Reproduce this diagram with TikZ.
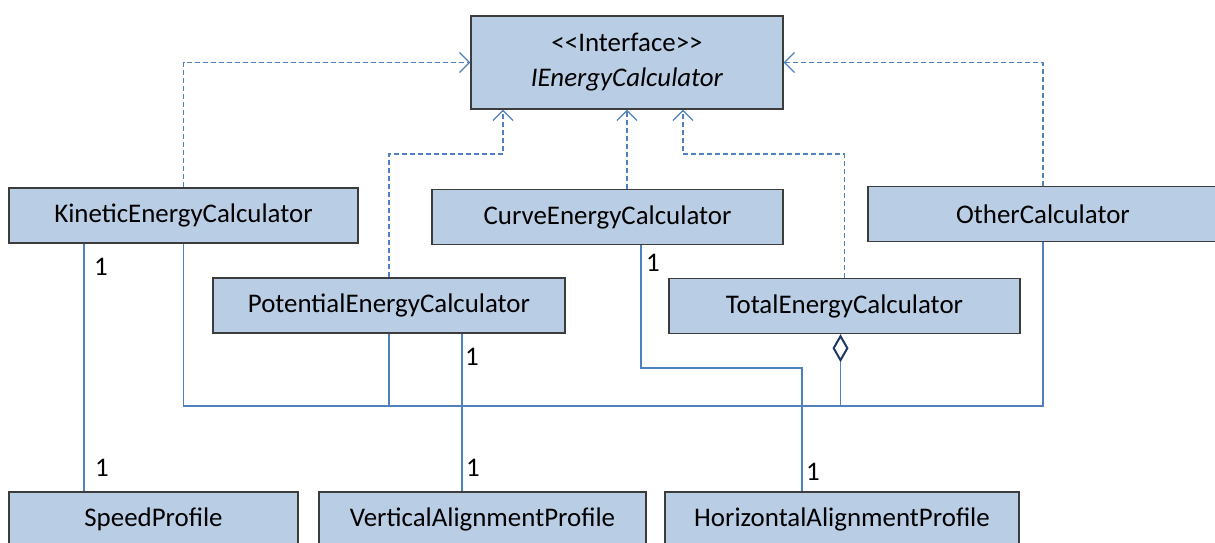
\documentclass[tikz,border=0pt]{standalone}
\usepackage{fontspec}
\setmainfont{Carlito}
\usetikzlibrary{arrows.meta, positioning, calc}
\definecolor{umlfill}{RGB}{185,205,229}
\definecolor{umledge}{RGB}{60,60,60}
\definecolor{umlline}{RGB}{79,129,189}
\definecolor{umlnavy}{RGB}{31,56,100}
\tikzset{
  classbox/.style={draw=umledge, fill=umlfill, line width=1.4bp, minimum height=55bp,
    inner sep=0pt, font=\fontsize{27}{32}\selectfont},
  realize/.style={umlline, line width=1.2bp, dash pattern=on 5bp off 3bp,
    -{Straight Barb[length=10bp,width=20bp]}},
  assoc/.style={umlline, line width=1.2bp},
  mult/.style={inner sep=0pt, font=\fontsize{27}{32}\selectfont},
}

\begin{document}
\begin{tikzpicture}[x=1bp, y=-1bp]
		\useasboundingbox (0,0) rectangle (1215,543);
		% interface
		\node[classbox, minimum width=312bp, minimum height=93bp, align=center,
		  font=\fontsize{27}{35}\selectfont] (iface) at (627,62.5)
		  {<\kern0pt<Interface>\kern0pt>\\ \textit{IEnergyCalculator}};
		% classes
		\foreach \nm/\x/\y/\w/\txt in {
		  kin/183.5/215.5/349/KineticEnergyCalculator,
		  curve/607.5/217/351/CurveEnergyCalculator,
		  oth/1043/214/350/OtherCalculator,
		  pot/389/305.5/352/PotentialEnergyCalculator,
		  tot/844.5/306/351/TotalEnergyCalculator,
		  speed/153.5/519.5/289/SpeedProfile,
		  vert/482.5/519.5/327/VerticalAlignmentProfile,
		  horiz/842/519.5/354/HorizontalAlignmentProfile}
		  \node[classbox, minimum width=\w bp] (\nm) at (\x,\y) {\txt};
		% realizations
		\coordinate (potbend) at (503,154);
		\coordinate (totbend) at (683,154);
		\draw[realize] (kin.north) |- (iface.west);
		\draw[realize] (oth.north) |- (iface.east);
		\draw[realize] (iface.south |- curve.north) -- (iface.south);
		\draw[realize] (pot.north) |- (potbend) -- (potbend |- iface.south);
		\draw[realize] (tot.north) |- (totbend) -- (totbend |- iface.south);
		% aggregation
		\coordinate (bus) at (0,406);
		\draw[assoc] (kin.south) |- (bus -| oth.south) -- (oth.south);
		\draw[assoc] (pot.south) -- (pot.south |- bus);
		\draw[assoc, {Diamond[open, length=28bp, width=16bp, line width=2bp, color=umlnavy]}-]
		  ([xshift=-4bp]tot.south) -- ([xshift=-4bp]tot.south |- bus);
		% associations
		\coordinate (cbend) at (802,368);
		\draw[assoc] ([xshift=-99.5bp]kin.south) coordinate (k1) -- (k1 |- speed.north);
		\draw[assoc] ([xshift=73bp]pot.south) coordinate (p1) -- (p1 |- vert.north);
		\draw[assoc] ([xshift=33.5bp]curve.south) |- (cbend) -- (cbend |- horiz.north);
		% multiplicities
		\foreach \nm/\x/\y in {m1/101/267, m2/102/468, m3/472/357,
		  m4/473/468, m5/653/263, m6/813/472}
		  \node[mult] (\nm) at (\x,\y) {1};
	\end{tikzpicture}
\end{document}
